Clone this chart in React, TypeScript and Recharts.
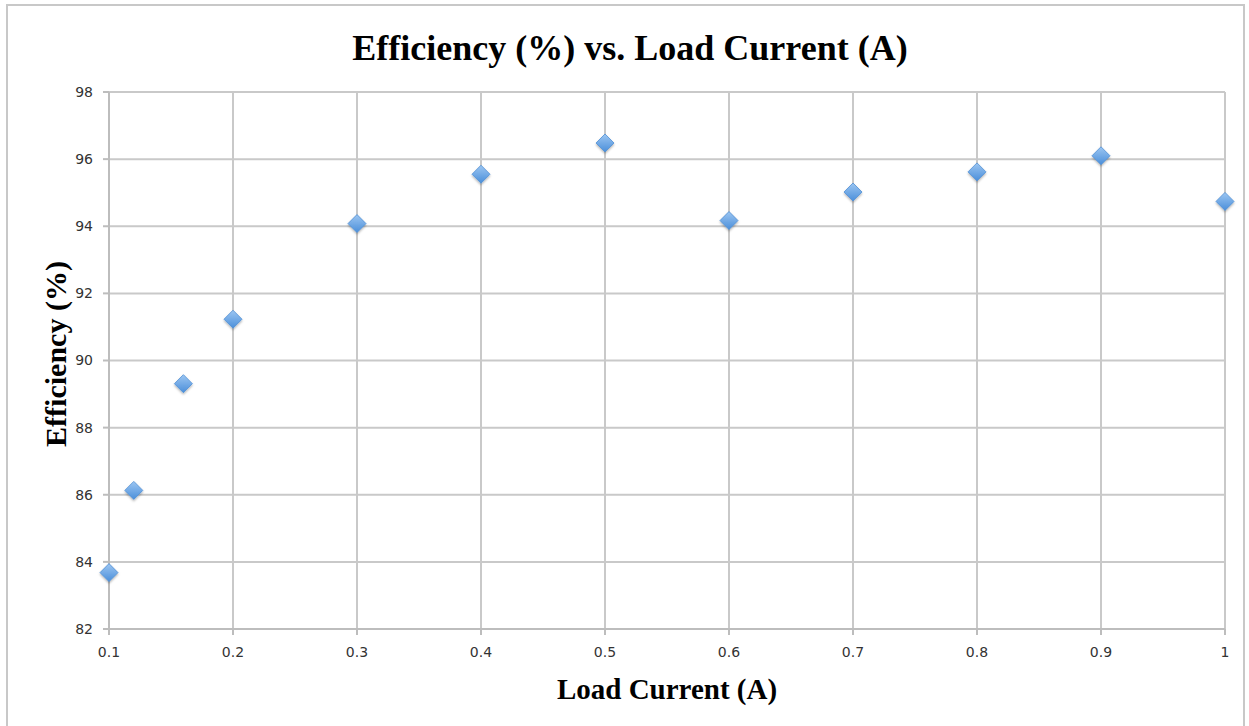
import React from "react";
import { CartesianGrid, Scatter, ScatterChart, XAxis, YAxis } from "recharts";

const loadCurrent = [0.1, 0.12, 0.16, 0.2, 0.3, 0.4, 0.5, 0.6, 0.7, 0.8, 0.9, 1.0];
const efficiency = [83.68, 86.13, 89.31, 91.23, 94.08, 95.55, 96.48, 94.17, 95.02, 95.62, 96.1, 94.74];
const xTicks = [0.1, 0.2, 0.3, 0.4, 0.5, 0.6, 0.7, 0.8, 0.9, 1];
const yTicks = [82, 84, 86, 88, 90, 92, 94, 96, 98];

const data = loadCurrent.map((x, i) => ({ x, y: efficiency[i] }));

const serif = "'Liberation Serif', 'Times New Roman', serif";
const sans = "'DejaVu Sans', Verdana, sans-serif";

const Diamond = (props: any) => {
    const { cx, cy } = props;
    if (cx == null || cy == null) return null;
    const r = 9;
    return (
        <polygon
            points={`${cx},${cy - r} ${cx + r},${cy} ${cx},${cy + r} ${cx - r},${cy}`}
            fill="url(#diamondFill)"
            stroke="#4f8fd6"
            strokeWidth={0.8}
            filter="url(#diamondShadow)"
        />
    );
};

export default function App() {
    return (
        <div style={{ position: "absolute", left: 0, top: 0, width: 1249, height: 726, background: "#fff", overflow: "hidden" }}>
            <div
                style={{
                    position: "absolute",
                    left: 6,
                    top: 4,
                    width: 1239,
                    height: 740,
                    border: "2px solid #c8c8c8",
                    boxSizing: "border-box",
                }}
            />
            <div
                style={{
                    position: "absolute",
                    left: 0,
                    width: 1260,
                    top: 27,
                    textAlign: "center",
                    fontFamily: serif,
                    fontWeight: "bold",
                    fontSize: 36,
                    lineHeight: "42px",
                    color: "#000",
                }}
            >
                Efficiency (%) vs. Load Current (A)
            </div>
            <div
                style={{
                    position: "absolute",
                    left: 467,
                    width: 400,
                    top: 672,
                    textAlign: "center",
                    fontFamily: serif,
                    fontWeight: "bold",
                    fontSize: 29,
                    lineHeight: "34px",
                    color: "#000",
                }}
            >
                Load Current (A)
            </div>
            <div
                style={{
                    position: "absolute",
                    left: 56 - 150,
                    top: 354 - 17,
                    width: 300,
                    height: 34,
                    transform: "rotate(-90deg)",
                    textAlign: "center",
                    fontFamily: serif,
                    fontWeight: "bold",
                    fontSize: 30,
                    lineHeight: "34px",
                    color: "#000",
                }}
            >
                Efficiency (%)
            </div>
            <div style={{ position: "absolute", left: 0, top: 0 }}>
                <ScatterChart width={1249} height={726} margin={{ top: 92, right: 24, bottom: 67, left: 49 }}>
                    <defs>
                        <linearGradient id="diamondFill" x1="0" y1="0" x2="0" y2="1">
                            <stop offset="0%" stopColor="#9cc6f2" />
                            <stop offset="100%" stopColor="#4b8fda" />
                        </linearGradient>
                        <filter id="diamondShadow" x="-50%" y="-50%" width="200%" height="200%">
                            <feDropShadow dx="0" dy="1.5" stdDeviation="1.2" floodColor="#000" floodOpacity="0.3" />
                        </filter>
                    </defs>
                    <CartesianGrid stroke="#c9c9c9" strokeWidth={2} horizontalValues={yTicks} verticalValues={xTicks} />
                    <XAxis
                        type="number"
                        dataKey="x"
                        domain={[0.1, 1]}
                        ticks={xTicks}
                        height={30}
                        stroke="#bdbdbd"
                        strokeWidth={2}
                        tickSize={6}
                        tickMargin={12}
                        tick={{ fill: "#333", fontSize: 14, fontFamily: sans }}
                        tickFormatter={(v) => String(v)}
                    />
                    <YAxis
                        type="number"
                        dataKey="y"
                        domain={[82, 98]}
                        ticks={yTicks}
                        width={60}
                        stroke="#bdbdbd"
                        strokeWidth={2}
                        tickSize={6}
                        tickMargin={10}
                        tick={{ fill: "#333", fontSize: 14, fontFamily: sans }}
                    />
                    <Scatter data={data} shape={Diamond} isAnimationActive={false} />
                </ScatterChart>
            </div>
        </div>
    );
}
